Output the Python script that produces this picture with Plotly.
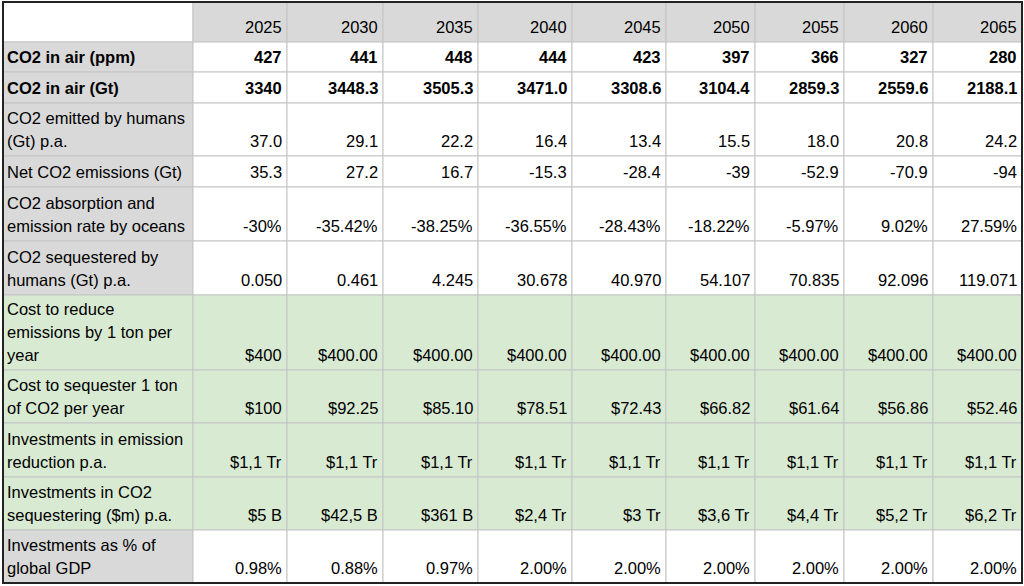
import plotly.graph_objects as go

years = [2025, 2030, 2035, 2040, 2045, 2050, 2055, 2060, 2065]

# each row label as its wrapped lines
row_labels = [
    ["CO2 in air (ppm)"],
    ["CO2 in air (Gt)"],
    ["CO2 emitted by humans", "(Gt) p.a."],
    ["Net CO2 emissions (Gt)"],
    ["CO2 absorption and", "emission rate by oceans"],
    ["CO2 sequestered by", "humans (Gt) p.a."],
    ["Cost to reduce", "emissions by 1 ton per", "year"],
    ["Cost to sequester 1 ton", "of CO2 per year"],
    ["Investments in emission", "reduction p.a."],
    ["Investments in CO2", "sequestering ($m) p.a."],
    ["Investments as % of", "global GDP"],
]

co2_ppm = [427, 441, 448, 444, 423, 397, 366, 327, 280]
co2_gt = ["3340", "3448.3", "3505.3", "3471.0", "3308.6", "3104.4", "2859.3", "2559.6", "2188.1"]
emitted = [37.0, 29.1, 22.2, 16.4, 13.4, 15.5, 18.0, 20.8, 24.2]
net_emissions = ["35.3", "27.2", "16.7", "-15.3", "-28.4", "-39", "-52.9", "-70.9", "-94"]
ocean_rate = ["-30%", "-35.42%", "-38.25%", "-36.55%", "-28.43%", "-18.22%", "-5.97%", "9.02%", "27.59%"]
sequestered = [0.050, 0.461, 4.245, 30.678, 40.970, 54.107, 70.835, 92.096, 119.071]
cost_reduce = ["$400", "$400.00", "$400.00", "$400.00", "$400.00", "$400.00", "$400.00", "$400.00", "$400.00"]
cost_sequester = ["$100", "$92.25", "$85.10", "$78.51", "$72.43", "$66.82", "$61.64", "$56.86", "$52.46"]
invest_reduce = ["$1,1 Tr"] * 9
invest_sequester = ["$5 B", "$42,5 B", "$361 B", "$2,4 Tr", "$3 Tr", "$3,6 Tr", "$4,4 Tr", "$5,2 Tr", "$6,2 Tr"]
gdp_share = ["0.98%", "0.88%", "0.97%", "2.00%", "2.00%", "2.00%", "2.00%", "2.00%", "2.00%"]

rows = [
    [str(v) for v in co2_ppm],
    co2_gt,
    ["%.1f" % v for v in emitted],
    net_emissions,
    ocean_rate,
    ["%.3f" % v for v in sequestered],
    cost_reduce,
    cost_sequester,
    invest_reduce,
    invest_sequester,
    gdp_share,
]
bold_rows = {0, 1}
green_rows = {6, 7, 8, 9}

# sheet geometry (pixels)
left, top = 3, 2
col_widths = [190, 94, 96, 95, 94, 94, 89, 89, 89, 89]
row_heights = [40, 30, 31, 53, 31, 54, 54, 75, 53, 54, 53, 53]
pad_x, pad_bottom, line_gap = 4, 9.5, 23

GRAY = "#d9d9d9"
GREEN = "#d9ead3"
GRID = "#c4c4c4"
FONT = "Liberation Sans, Arial, sans-serif"
FS = 16.5

x_edges = [left]
for w in col_widths:
    x_edges.append(x_edges[-1] + w)
y_edges = [top]
for h in row_heights:
    y_edges.append(y_edges[-1] + h)

fig = go.Figure()
shapes, notes = [], []


def cell(r, c, fill):
    shapes.append(dict(type="rect", xref="x", yref="y", layer="below",
                       x0=x_edges[c], x1=x_edges[c + 1], y0=y_edges[r], y1=y_edges[r + 1],
                       fillcolor=fill, line=dict(color=GRID, width=1)))


def text(r, c, s, align, bold=False, lines_below=0):
    base = y_edges[r + 1] - pad_bottom - lines_below * line_gap
    x = x_edges[c] + pad_x - 1 if align == "left" else x_edges[c + 1] - pad_x
    notes.append(dict(xref="x", yref="y", x=x, y=base - 0.35 * FS,
                      text="<b>%s</b>" % s if bold else s, showarrow=False,
                      xanchor=align, yanchor="middle", borderpad=0,
                      font=dict(family=FONT, size=FS, color="black")))


# header row
cell(0, 0, "white")
for j, y in enumerate(years):
    cell(0, j + 1, GRAY)
    text(0, j + 1, str(y), "right")

# body rows
for i, (label, vals) in enumerate(zip(row_labels, rows)):
    r = i + 1
    cell(r, 0, GREEN if i in green_rows else GRAY)
    for k, line in enumerate(label):
        text(r, 0, line, "left", i in bold_rows, len(label) - 1 - k)
    for j, v in enumerate(vals):
        cell(r, j + 1, GREEN if i in green_rows else "white")
        text(r, j + 1, v, "right", i in bold_rows)

# outer frame
shapes.append(dict(type="rect", xref="x", yref="y", x0=x_edges[0], x1=x_edges[-1],
                   y0=y_edges[0], y1=y_edges[-1], line=dict(color="#222222", width=2)))

# invisible trace to anchor the axes
fig.add_trace(go.Scatter(x=[x_edges[0], x_edges[-1]], y=[y_edges[0], y_edges[-1]],
                         mode="markers", marker=dict(opacity=0), hoverinfo="skip",
                         showlegend=False))

fig.update_layout(
    width=1024, height=586, margin=dict(l=0, r=0, t=0, b=0),
    paper_bgcolor="white", plot_bgcolor="white",
    shapes=shapes, annotations=notes,
    xaxis=dict(range=[0, 1024], visible=False, fixedrange=True),
    yaxis=dict(range=[586, 0], visible=False, fixedrange=True),
)
fig.write_html("out.html", config={"displayModeBar": False},
               post_script="document.body.style.margin = '0';")
